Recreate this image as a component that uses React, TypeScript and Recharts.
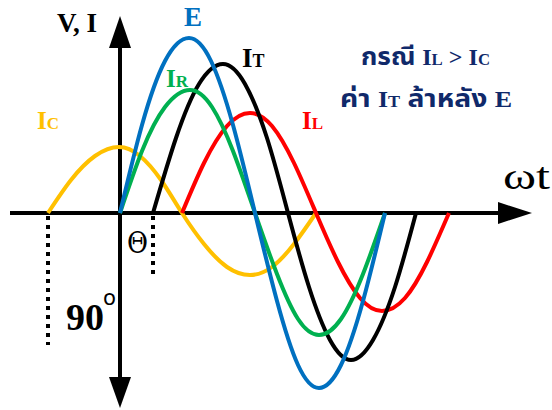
import { LineChart, Line, XAxis, YAxis, ReferenceLine } from 'recharts'

// wave samples every 30 degrees (x = ωt position, v = height above the axis)
const eWave = [
  { wt: 120, v: 0 }, { wt: 142, v: 88 }, { wt: 165, v: 152 }, { wt: 189, v: 175 },
  { wt: 211, v: 152 }, { wt: 233, v: 88 }, { wt: 255, v: 0 }, { wt: 277, v: -88 },
  { wt: 298, v: -152 }, { wt: 319, v: -175 }, { wt: 341, v: -152 }, { wt: 363, v: -88 },
  { wt: 385, v: 0 }
]
const irWave = [
  { wt: 120, v: 0 }, { wt: 142, v: 62 }, { wt: 165, v: 106 }, { wt: 190, v: 123 },
  { wt: 212, v: 106 }, { wt: 233, v: 62 }, { wt: 255, v: 0 }, { wt: 277, v: -61 },
  { wt: 298, v: -106 }, { wt: 319, v: -122 }, { wt: 341, v: -106 }, { wt: 363, v: -61 },
  { wt: 385, v: 0 }
]
const itWave = [
  { wt: 153, v: 0 }, { wt: 176, v: 75 }, { wt: 199, v: 129 }, { wt: 223, v: 149 },
  { wt: 245, v: 129 }, { wt: 267, v: 75 }, { wt: 288, v: 0 }, { wt: 309, v: -74 },
  { wt: 330, v: -127 }, { wt: 351, v: -147 }, { wt: 373, v: -127 }, { wt: 395, v: -74 },
  { wt: 416, v: 0 }
]
const ilWave = [
  { wt: 182, v: 0 }, { wt: 204, v: 50 }, { wt: 227, v: 87 }, { wt: 250, v: 100 },
  { wt: 272, v: 87 }, { wt: 294, v: 50 }, { wt: 316, v: 0 }, { wt: 338, v: -49 },
  { wt: 360, v: -85 }, { wt: 382, v: -98 }, { wt: 405, v: -85 }, { wt: 427, v: -49 },
  { wt: 449, v: 0 }
]
const icWave = [
  { wt: 48, v: 0 }, { wt: 71, v: 33 }, { wt: 95, v: 57 }, { wt: 119, v: 66 },
  { wt: 140, v: 57 }, { wt: 161, v: 33 }, { wt: 182, v: 0 }, { wt: 204, v: -31 },
  { wt: 227, v: -54 }, { wt: 250, v: -62 }, { wt: 272, v: -54 }, { wt: 294, v: -31 },
  { wt: 316, v: 0 }
]

const serif = '"Liberation Serif", "Times New Roman", serif'
const thai = '"Noto Sans Thai", "Tahoma", "DejaVu Sans", sans-serif'
const navy = '#10296A'

export default function App() {
  return (
    <div style={{ position: 'absolute', left: 0, top: 0, width: 552, height: 410, background: '#fff' }}>
      <LineChart width={552} height={410} margin={{ top: 0, right: 0, bottom: 0, left: 0 }}>
        <XAxis type="number" dataKey="wt" domain={[0, 552]} hide allowDataOverflow />
        <YAxis type="number" domain={[-197, 213]} hide allowDataOverflow />
        <ReferenceLine segment={[{ x: 10, y: 0 }, { x: 505, y: 0 }]} stroke="#000" strokeWidth={4} />
        <ReferenceLine segment={[{ x: 120, y: 170 }, { x: 120, y: -170 }]} stroke="#000" strokeWidth={4} />
        <ReferenceLine segment={[{ x: 48, y: -3 }, { x: 48, y: -132 }]} stroke="#000" strokeWidth={4} strokeDasharray="4 5" />
        <ReferenceLine segment={[{ x: 153, y: -3 }, { x: 153, y: -66 }]} stroke="#000" strokeWidth={4} strokeDasharray="4 5" />
        <Line data={icWave} dataKey="v" type="natural" stroke="#FFC000" strokeWidth={4} dot={false} activeDot={false} isAnimationActive={false} />
        <Line data={ilWave} dataKey="v" type="natural" stroke="#FF0000" strokeWidth={4} dot={false} activeDot={false} isAnimationActive={false} />
        <Line data={itWave} dataKey="v" type="natural" stroke="#000000" strokeWidth={4} dot={false} activeDot={false} isAnimationActive={false} />
        <Line data={irWave} dataKey="v" type="natural" stroke="#00B050" strokeWidth={4} dot={false} activeDot={false} isAnimationActive={false} />
        <Line data={eWave} dataKey="v" type="natural" stroke="#0070C0" strokeWidth={4} dot={false} activeDot={false} isAnimationActive={false} />
      </LineChart>
      <svg width={552} height={410} style={{ position: 'absolute', left: 0, top: 0, pointerEvents: 'none' }}>
        {/* arrow heads */}
        <polygon points="120,16 109,48 131,48" fill="#000" />
        <polygon points="120,408 109,377 131,377" fill="#000" />
        <polygon points="532,213 498,202 498,224" fill="#000" />

        <text x={57} y={32} fontFamily={serif} fontWeight="bold" fontSize={27}>V, I</text>
        <text x={184} y={26} fontFamily={serif} fontWeight="bold" fontSize={27} fill="#0070C0">E</text>
        <text x={242} y={67} fontFamily={serif} fontWeight="bold" fontSize={27}>I<tspan fontSize={18}>T</tspan></text>
        <text x={166} y={87} fontFamily={serif} fontWeight="bold" fontSize={25} fill="#00B050">I<tspan fontSize={17}>R</tspan></text>
        <text x={37} y={129} fontFamily={serif} fontWeight="bold" fontSize={25} fill="#FFC000">I<tspan fontSize={17}>C</tspan></text>
        <text x={302} y={129} fontFamily={serif} fontWeight="bold" fontSize={25} fill="#FF0000">I<tspan fontSize={17}>L</tspan></text>

        <text x={361} y={65} fontFamily={thai} fontWeight="bold" fontSize={25} fill={navy} textLength={129} lengthAdjust="spacingAndGlyphs">
          กรณี <tspan fontFamily={serif} fontSize={23}>I</tspan><tspan fontFamily={serif} fontSize={16}>L</tspan>
          <tspan fontFamily={serif} fontSize={23}> &gt; I</tspan><tspan fontFamily={serif} fontSize={16}>C</tspan>
        </text>
        <text x={340} y={107} fontFamily={thai} fontWeight="bold" fontSize={25} fill={navy} textLength={172} lengthAdjust="spacingAndGlyphs">
          ค่า <tspan fontFamily={serif} fontSize={23}>I</tspan><tspan fontFamily={serif} fontSize={16}>T</tspan> ล้าหลัง <tspan fontFamily={serif} fontSize={23}>E</tspan>
        </text>

        <text x={503} y={189} fontFamily={serif} fontSize={38} textLength={47} lengthAdjust="spacingAndGlyphs">ωt</text>
        <text x={127} y={253} fontFamily='"DejaVu Serif", serif' fontSize={30} textLength={21} lengthAdjust="spacingAndGlyphs">Θ</text>
        <text x={66} y={330} fontFamily={serif} fontWeight="bold" fontSize={38}>90</text>
        <text x={103} y={305} fontFamily='"DejaVu Sans", sans-serif' fontSize={22} textLength={13} lengthAdjust="spacingAndGlyphs">o</text>
      </svg>
    </div>
  )
}
